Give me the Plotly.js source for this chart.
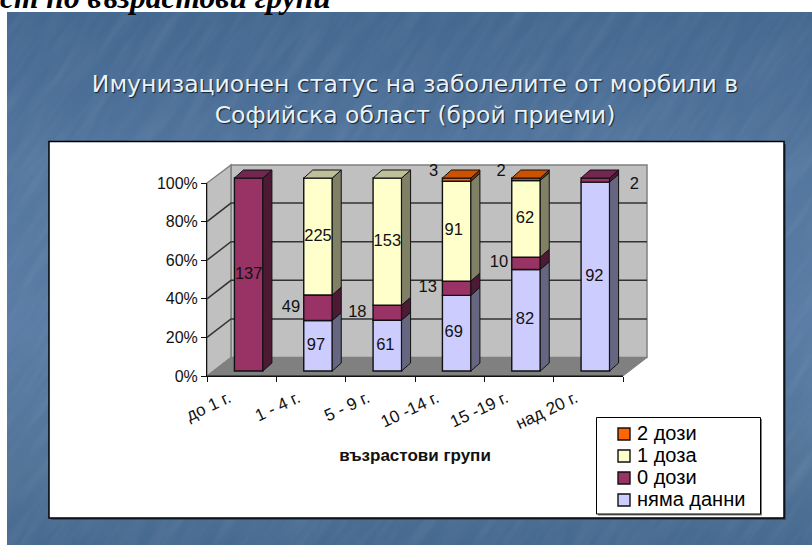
<!DOCTYPE html>
<html>
<head>
<meta charset="utf-8">
<script src="https://cdn.plot.ly/plotly-3.0.0.min.js"></script>
<style>
html,body{margin:0;padding:0;background:#fff;width:812px;height:545px;overflow:hidden}
#slide{position:absolute;left:7px;top:12px;width:805px;height:533px;
background-image:url("data:image/svg+xml,%3Csvg xmlns='http://www.w3.org/2000/svg' width='805' height='533'%3E%3Cfilter id='n' x='-30%25' y='-30%25' width='160%25' height='160%25'%3E%3CfeTurbulence type='fractalNoise' baseFrequency='0.012 0.09' numOctaves='3' seed='4'/%3E%3CfeColorMatrix values='0 0 0 0 1 0 0 0 0 1 0 0 0 0 1 0.9 0 0 0 -0.32'/%3E%3C/filter%3E%3Crect x='-200' y='-200' width='1205' height='933' transform='rotate(-55 402 266)' filter='url(%23n)' opacity='0.13'/%3E%3C/svg%3E"),
linear-gradient(180deg,#446890 0%,#4a6d96 12%,#54779f 30%,#5a7ca5 60%,#527598 85%,#46698f 100%)}
#chart{position:absolute;left:0;top:0;width:812px;height:545px}
</style>
</head>
<body>
<div id="slide"></div>
<div id="chart"></div>
<script>
const categories = ['до 1 г.', '1 - 4 г.', '5 - 9 г.', '10 -14 г.', '15 -19 г.', 'над 20 г.'];
const noData = [0, 97, 61, 69, 82, 92];
const zeroDoses = [137, 49, 18, 13, 10, 2];
const oneDose = [0, 225, 153, 91, 62, 0];
const twoDoses = [0, 0, 0, 3, 2, 0];
const percentTicks = [0, 20, 40, 60, 80, 100];

const seriesNames = ['няма данни', '0 дози', '1 доза', '2 дози'];
const seriesValues = [noData, zeroDoses, oneDose, twoDoses];
const frontColors = ['#ccccff', '#993366', '#ffffcc', '#ff6600'];
const sideColors = ['#666680', '#4d1a33', '#808066', '#803300'];
const topColors = ['#9999bf', '#732650', '#bfbf99', '#cc5200'];
// horizontal / vertical label nudges in pixels, per series and category
const labelDx = [
  [0, -2, -2, -3, -1, -1],
  [0, -27, -30, -29, -27, 39],
  [0, 0, 0, -3, -1, 0],
  [0, 0, 0, -23, -25, 0]
];
const labelDy = [
  [0, 0, 0, 0, 0, 0],
  [0, 0, 0, 0, 0, 5],
  [0, 0, 0, 0, 0, 0],
  [0, 0, 0, -8, -7, 0]
];

// Front plane geometry (pixels)
const L = 207, R = 623, B = 376, T = 183;
const unitX = (R - L) / categories.length, unitY = (B - T) / 100;
const wallDx = 24, wallDy = 18.5;       // depth of the box
const barDx = 7, barDy = 5;             // bar front face shift
const depthDx = 9, depthDy = 8;         // bar depth
const barW = 28.5;
const X = px => -0.5 + (px - L) / unitX;
const Y = py => (B - py) / unitY;
const dxU = px => px / unitX, dyU = px => px / unitY;

const totals = categories.map((_, i) => seriesValues.reduce((s, v) => s + v[i], 0));
const traces = [];
const polys = [], labels = [];
seriesValues.forEach((vals, s) => {
  const xs = [], bases = [], ys = [];
  const sx = [], sy = [], tx = [], ty = [], lx = [], ly = [], lt = [];
  vals.forEach((v, i) => {
    if (!v) return;
    const before = seriesValues.slice(0, s).reduce((a, w) => a + w[i], 0);
    const p0 = before / totals[i] * 100, p1 = (before + v) / totals[i] * 100;
    const cx = i + dxU(barDx), b = p0 + dyU(barDy), t = p1 + dyU(barDy);
    const hw = dxU(barW) / 2, r = cx + hw, l = cx - hw;
    xs.push(cx); bases.push(b); ys.push(p1 - p0);
    const dx = dxU(depthDx), dy = dyU(depthDy);
    sx.push(r, r + dx, r + dx, r, r, null);
    sy.push(b, b + dy, t + dy, t, b, null);
    if (before + v === totals[i]) {
      tx.push(l, l + dx, r + dx, r, l, null);
      ty.push(t, t + dy, t + dy, t, t, null);
    }
    lx.push(cx + dxU(labelDx[s][i]));
    ly.push((b + t) / 2 - dyU(labelDy[s][i]));
    lt.push(String(v));
  });
  traces.push({type: 'bar', name: '<span style="font-size:20px">' + seriesNames[s] + '</span>', x: xs, y: ys, base: bases,
    width: dxU(barW), marker: {color: frontColors[s], line: {color: '#111', width: 1.4}},
    xaxis: 'x', yaxis: 'y', hoverinfo: 'skip'});
  polys.push({type: 'scatter', mode: 'lines', x: sx, y: sy, fill: 'toself', fillcolor: sideColors[s],
    line: {color: '#111', width: 1}, showlegend: false, hoverinfo: 'skip', xaxis: 'x', yaxis: 'y'});
  if (tx.length) polys.push({type: 'scatter', mode: 'lines', x: tx, y: ty, fill: 'toself', fillcolor: topColors[s],
    line: {color: '#111', width: 1}, showlegend: false, hoverinfo: 'skip', xaxis: 'x', yaxis: 'y'});
  labels.push({type: 'scatter', mode: 'text', x: lx, y: ly, text: lt, textposition: 'middle center',
    textfont: {family: '"Liberation Sans", Arial, sans-serif', size: 16.5, color: '#111'},
    showlegend: false, hoverinfo: 'skip', xaxis: 'x', yaxis: 'y'});
});
// front-plane axes need a trace of their own
const frontTrace = {type: 'scatter', mode: 'lines', x: [-0.5, 5.5], y: [0, 0], line: {color: '#111', width: 1},
  showlegend: false, hoverinfo: 'skip', xaxis: 'x2', yaxis: 'y2'};

const pathOf = pts => 'M' + pts.map(p => X(p[0]) + ',' + Y(p[1])).join('L') + 'Z';
const shapes = [
  {type: 'rect', xref: 'paper', yref: 'paper', x0: 51 / 812, x1: 786 / 812, y0: 1 - 520 / 545, y1: 1 - 144 / 545,
    fillcolor: 'rgba(30,40,60,0.5)', line: {width: 0}, layer: 'below'},
  {type: 'rect', xref: 'paper', yref: 'paper', x0: 49 / 812, x1: 784 / 812, y0: 1 - 518 / 545, y1: 1 - 141.5 / 545,
    fillcolor: '#ffffff', line: {color: '#000', width: 1.5}, layer: 'below'},
  {type: 'rect', xref: 'paper', yref: 'paper', x0: 598 / 812, x1: 762 / 812, y0: 1 - 515.5 / 545, y1: 1 - 419 / 545,
    fillcolor: '#808080', line: {width: 0}, layer: 'below'},
  {type: 'rect', xref: 'paper', yref: 'paper', x0: 596.5 / 812, x1: 760.5 / 812, y0: 1 - 514 / 545, y1: 1 - 417.5 / 545,
    fillcolor: '#ffffff', line: {color: '#000', width: 1}, layer: 'below'},
  {type: 'path', xref: 'x', yref: 'y', layer: 'below', fillcolor: '#c0c0c0', line: {color: '#808080', width: 1.5},
    path: pathOf([[L + wallDx, B - wallDy], [R + wallDx, B - wallDy], [R + wallDx, T - wallDy + 0.5], [L + wallDx, T - wallDy + 0.5]])},
  {type: 'path', xref: 'x', yref: 'y', layer: 'below', fillcolor: '#c0c0c0', line: {color: '#808080', width: 1.5},
    path: pathOf([[L, B], [L + wallDx, B - wallDy], [L + wallDx, T - wallDy + 0.5], [L, T]])},
  {type: 'path', xref: 'x', yref: 'y', layer: 'below', fillcolor: '#808080', line: {color: '#808080', width: 1},
    path: pathOf([[L, B], [L + wallDx, B - wallDy], [R + wallDx, B - wallDy], [R, B]])}
];
percentTicks.slice(1, 5).forEach(p => {
  const y = B - p * unitY;
  shapes.push({type: 'path', xref: 'x', yref: 'y', layer: 'below', line: {color: '#333', width: 1.5},
    path: 'M' + X(L) + ',' + Y(y) + 'L' + X(L + wallDx) + ',' + Y(y - wallDy) + 'L' + X(R + wallDx) + ',' + Y(y - wallDy)});
});

const pxL = 198, pxR = 665, pyB = 385, pyT = 150;
const layout = {
  width: 812, height: 545, margin: {l: 0, r: 0, t: 0, b: 0},
  paper_bgcolor: 'rgba(0,0,0,0)', plot_bgcolor: 'rgba(0,0,0,0)',
  barmode: 'overlay', showlegend: true,
  title: {text: 'Имунизационен статус на заболелите от морбили в<br>Софийска област (брой приеми)',
    x: 415 / 812, xanchor: 'center', y: 1 - 92 / 545, yanchor: 'top',
    font: {family: '"DejaVu Sans", Verdana, sans-serif', size: 23.5, color: '#eaf2f8',
      shadow: '1px 1px 1px #10202f'}},
  xaxis: {domain: [pxL / 812, pxR / 812], range: [X(pxL), X(pxR)], visible: false, fixedrange: true},
  yaxis: {domain: [1 - pyB / 545, 1 - pyT / 545], range: [Y(pyB), Y(pyT)], visible: false, fixedrange: true},
  xaxis2: {domain: [L / 812, R / 812], range: [-0.5, 5.5], anchor: 'y2', showgrid: false, zeroline: false,
    showline: true, linecolor: '#111', linewidth: 1, tickmode: 'array', tickvals: [0, 1, 2, 3, 4, 5], ticktext: categories,
    ticks: '', tickangle: -25, ticklabelshift: -13, ticklabelstandoff: 5,
    tickfont: {family: '"Liberation Sans", Arial, sans-serif', size: 17, color: '#111'},
    minor: {tickmode: 'linear', tick0: -0.5, dtick: 1, ticks: 'outside', ticklen: 5, tickcolor: '#111', tickwidth: 1, showgrid: false},
    title: {text: 'възрастови групи', standoff: 16,
      font: {family: '"Liberation Sans", Arial, sans-serif', size: 17, color: '#111', weight: 'bold'}},
    fixedrange: true},
  yaxis2: {domain: [1 - B / 545, 1 - T / 545], range: [0, 100], anchor: 'x2', showgrid: false, zeroline: false,
    showline: true, linecolor: '#111', linewidth: 1, tickmode: 'array', tickvals: percentTicks,
    ticktext: percentTicks.map(p => p + '%'), ticks: 'outside', ticklen: 5, tickcolor: '#111',
    tickfont: {family: '"Liberation Sans", Arial, sans-serif', size: 16, color: '#111'}, fixedrange: true},
  legend: {x: 597 / 812, xanchor: 'left', y: 1 - 418 / 545, yanchor: 'top', traceorder: 'reversed',
    bgcolor: 'rgba(0,0,0,0)', borderwidth: 0, itemclick: false, itemdoubleclick: false,
    font: {family: '"Liberation Sans", Arial, sans-serif', size: 14.6, color: '#000'}},
  shapes: shapes,
  annotations: [{xref: 'paper', yref: 'paper', x: 333 / 812, y: 1 - 17 / 545, xanchor: 'right', yanchor: 'bottom',
    text: '<b><i>ст по възрастови групи</i></b>', showarrow: false,
    font: {family: '"Liberation Serif", "Times New Roman", serif', size: 31.5, color: '#000'}}]
};
Plotly.newPlot('chart', traces.concat(polys, labels, [frontTrace]), layout, {displayModeBar: false, responsive: false}).then(() => {
  // nudge the legend swatches to sit nearer their text, as in the reference
  document.querySelectorAll('#chart .legendsymbols').forEach(g => g.setAttribute('transform', 'translate(7,0)'));
});
</script>
</body>
</html>
